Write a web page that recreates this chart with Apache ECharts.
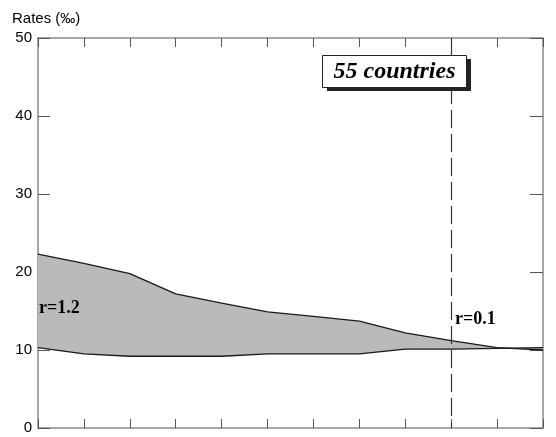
<!DOCTYPE html>
<html><head><meta charset="utf-8">
<script src="https://cdn.jsdelivr.net/npm/echarts@6/dist/echarts.min.js"></script>
<style>html,body{margin:0;padding:0;background:#fff}#c{width:556px;height:437px}</style>
</head><body><div id="c"></div>
<script>
const categories = ['1','2','3','4','5','6','7','8','9','10','11','12'];
const upperRates = [22.3, 21.1, 19.8, 17.2, 16.0, 14.9, 14.3, 13.7, 12.2, 11.2, 10.3, 10.0];
const lowerRates = [10.3, 9.5, 9.2, 9.2, 9.2, 9.5, 9.5, 9.5, 10.1, 10.1, 10.2, 10.3];
const yTicks = [0, 10, 20, 30, 40, 50];
const dividerCategory = '10';
const boxText = '55 countries';
const leftLabel = 'r=1.2';
const rightLabel = 'r=0.1';

const diff = upperRates.map((v, i) => +(v - lowerRates[i]).toFixed(2));
const axisGrey = '#8a8a8a';

function xAxisCfg(pos) {
  return {
    type: 'category', data: categories, boundaryGap: false, position: pos,
    axisLine: {show: true, onZero: false, lineStyle: {color: axisGrey, width: 1.5}},
    axisTick: {show: true, inside: true, length: 9, interval: 0, lineStyle: {color: '#555', width: 1}},
    axisLabel: {show: false}, splitLine: {show: false}
  };
}
function yAxisCfg(pos, len) {
  return {
    type: 'value', min: yTicks[0], max: yTicks[yTicks.length - 1], interval: 10, position: pos,
    axisLine: {show: true, onZero: false, lineStyle: {color: axisGrey, width: 1.5}},
    axisTick: {show: true, inside: true, length: len, lineStyle: {color: '#555', width: 1}},
    splitLine: {show: false}
  };
}
const yLeft = yAxisCfg('left', 12);
yLeft.name = 'Rates (‰)';
yLeft.nameLocation = 'end';
yLeft.nameGap = 12;
yLeft.nameTextStyle = {color: '#000', fontSize: 15, fontFamily: 'Liberation Sans', align: 'left', padding: [0, 0, 0, -26]};
yLeft.axisLabel = {show: true, color: '#000', fontSize: 15, fontFamily: 'Liberation Sans', margin: 6};
const yRight = yAxisCfg('right', 13);
yRight.axisLabel = {show: false};

const chart = echarts.init(document.getElementById('c'));
chart.setOption({
  animation: false,
  grid: {left: 38, right: 13, top: 38, bottom: 9},
  xAxis: [xAxisCfg('bottom'), xAxisCfg('top')],
  yAxis: [yLeft, yRight],
  series: [
    {type: 'line', data: lowerRates, stack: 'band', stackStrategy: 'all', symbol: 'none', silent: true,
     lineStyle: {opacity: 0}, z: 1},
    {type: 'line', data: diff, stack: 'band', stackStrategy: 'all', symbol: 'none', silent: true,
     lineStyle: {opacity: 0}, areaStyle: {color: '#b9babc', opacity: 1}, z: 1},
    {type: 'line', data: upperRates, symbol: 'none', lineStyle: {color: '#1a1a1a', width: 1.3}, z: 3,
     markLine: {symbol: 'none', silent: true, label: {show: false},
       lineStyle: {color: '#333', width: 1.2, type: [18, 6]},
       data: [[{xAxis: dividerCategory, yAxis: yTicks[yTicks.length - 1]}, {xAxis: dividerCategory, yAxis: yTicks[0]}]]}},
    {type: 'line', data: lowerRates, symbol: 'none', lineStyle: {color: '#1a1a1a', width: 1.3}, z: 3}
  ],
  graphic: [
    {type: 'rect', shape: {x: 327, y: 59, width: 144, height: 32}, style: {fill: '#222'}, z: 10},
    {type: 'rect', shape: {x: 322.5, y: 55.5, width: 144, height: 32}, style: {fill: '#fff', stroke: '#222', lineWidth: 1}, z: 11},
    {type: 'text', x: 394.5, y: 72, z: 12, style: {text: boxText, fill: '#000', font: 'italic bold 24px "Liberation Serif"', textAlign: 'center', textVerticalAlign: 'middle'}},
    {type: 'text', x: 39, y: 308, z: 12, style: {text: leftLabel, fill: '#000', font: 'bold 18px "Liberation Serif"', textAlign: 'left', textVerticalAlign: 'middle'}},
    {type: 'text', x: 455, y: 319, z: 12, style: {text: rightLabel, fill: '#000', font: 'bold 18px "Liberation Serif"', textAlign: 'left', textVerticalAlign: 'middle'}}
  ]
});
</script></body></html>
